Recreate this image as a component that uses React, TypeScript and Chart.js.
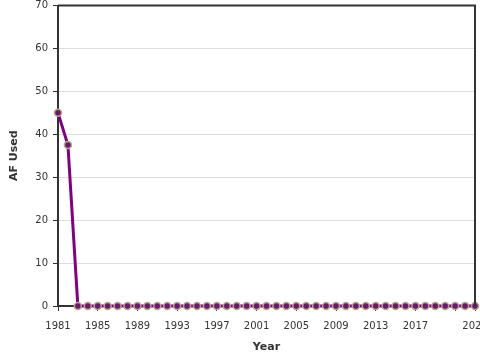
import React, { useEffect, useRef } from "react";
import { Chart, registerables } from "chart.js";

Chart.register(...registerables);

const years: number[] = [
  1981, 1982, 1983, 1984, 1985, 1986, 1987, 1988, 1989, 1990, 1991, 1992, 1993, 1994,
  1995, 1996, 1997, 1998, 1999, 2000, 2001, 2002, 2003, 2004, 2005, 2006, 2007, 2008,
  2009, 2010, 2011, 2012, 2013, 2014, 2015, 2016, 2017, 2018, 2019, 2020, 2021, 2022, 2023,
];
const afUsed: number[] = [
  45, 37.5, 0, 0, 0, 0, 0, 0, 0, 0, 0, 0, 0, 0,
  0, 0, 0, 0, 0, 0, 0, 0, 0, 0, 0, 0, 0, 0,
  0, 0, 0, 0, 0, 0, 0, 0, 0, 0, 0, 0, 0, 0, 0,
];
const xTickValues: number[] = [1981, 1985, 1989, 1993, 1997, 2001, 2005, 2009, 2013, 2017, 2021, 2023];
const hiddenXTickLabels: number[] = [2021];

const FONT = "'DejaVu Sans', sans-serif";

const frame = {
  id: "frame",
  afterDatasetsDraw(chart: any) {
    const { ctx, chartArea } = chart;
    ctx.save();
    ctx.strokeStyle = "#333";
    ctx.lineWidth = 2;
    ctx.beginPath();
    ctx.moveTo(chartArea.left, chartArea.top);
    ctx.lineTo(chartArea.right, chartArea.top);
    ctx.lineTo(chartArea.right, chartArea.bottom);
    ctx.stroke();
    ctx.restore();
  },
};

export default function App() {
  const ref = useRef<HTMLCanvasElement>(null);
  useEffect(() => {
    if (!ref.current) return;
    const chart = new Chart(ref.current, {
      type: "line",
      data: {
        datasets: [
          {
            data: years.map((y, i) => ({ x: y, y: afUsed[i] })),
            borderColor: "#800080",
            borderWidth: 3,
            backgroundColor: "#6b1a6b",
            pointBackgroundColor: "#6b1a6b",
            pointBorderColor: "#b3a88a",
            pointBorderWidth: 1.5,
            pointRadius: 3.5,
            tension: 0,
            clip: false as any,
          },
        ],
      },
      plugins: [frame],
      options: {
        animation: false,
        responsive: false,
        maintainAspectRatio: false,
        layout: { padding: { top: 4, left: 0, bottom: 0, right: 11 } },
        plugins: { legend: { display: false }, tooltip: { enabled: false } },
        scales: {
          x: {
            type: "linear",
            min: 1981,
            max: 2023,
            afterBuildTicks: (scale: any) => {
              scale.ticks = xTickValues.map((v) => ({ value: v }));
            },
            ticks: {
              autoSkip: false,
              maxRotation: 0,
              color: "#333",
              font: { family: FONT, size: 10 },
              padding: 9,
              callback: (v: any) => (hiddenXTickLabels.includes(Number(v)) ? "" : String(v)),
            },
            grid: { drawOnChartArea: false, drawTicks: true, tickLength: 5, color: "#333" },
            border: { display: true, color: "#333", width: 2 },
            title: {
              display: true,
              text: "Year",
              color: "#333",
              font: { family: FONT, size: 11, weight: "bold" },
              padding: { top: 6, bottom: 6 },
            },
            afterFit: (scale: any) => {
              scale.height = 54;
              scale.paddingLeft = 0;
              scale.paddingRight = 0;
            },
          },
          y: {
            min: 0,
            max: 70,
            ticks: {
              stepSize: 10,
              color: "#333",
              font: { family: FONT, size: 10 },
              padding: 5,
            },
            grid: { color: "#dddddd", tickColor: "#333", tickLength: 5 },
            border: { display: true, color: "#333", width: 2 },
            title: {
              display: true,
              text: "AF Used",
              color: "#333",
              font: { family: FONT, size: 11, weight: "bold" },
              padding: { top: 8, bottom: 4 },
            },
            afterFit: (scale: any) => {
              scale.width = 58;
              scale.paddingTop = 0;
              scale.paddingBottom = 0;
            },
          },
        },
      },
    });
    return () => chart.destroy();
  }, []);
  return (
    <div style={{ position: "fixed", left: 0, top: 0, width: 480, height: 360, overflow: "hidden", background: "#fff" }}>
      <canvas ref={ref} width={486} height={360} style={{ display: "block" }} />
    </div>
  );
}
